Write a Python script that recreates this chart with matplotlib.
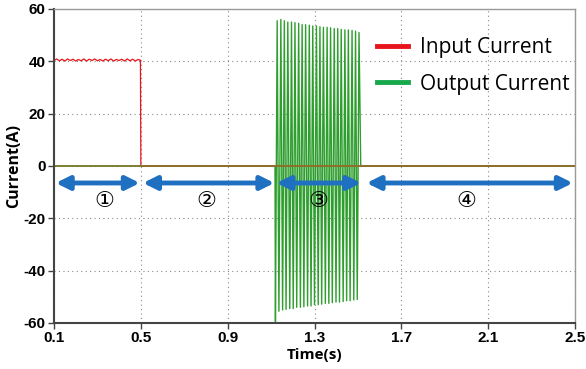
import matplotlib
matplotlib.use("Agg")
from matplotlib import pyplot as plt

# Input current (A) : ripple around 40 A until the cut at 0.5 s
input_t = [0.100, 0.112, 0.125, 0.137, 0.150, 0.162, 0.175, 0.187, 0.200, 0.212,
           0.225, 0.237, 0.250, 0.262, 0.275, 0.287, 0.300, 0.312, 0.325, 0.337,
           0.350, 0.362, 0.375, 0.387, 0.400, 0.412, 0.425, 0.437, 0.450, 0.462,
           0.475, 0.487, 0.498, 0.500, 2.500]
input_i = [40.3, 40.9, 40.2, 40.8, 40.1, 40.9, 40.3, 40.8, 40.1, 40.7,
           40.2, 40.9, 40.1, 40.8, 40.3, 40.9, 40.2, 40.7, 40.1, 40.8,
           40.2, 40.9, 40.1, 40.7, 40.3, 40.8, 40.1, 40.9, 40.2, 40.8,
           40.1, 40.7, 40.4, 0.0, 0.0]

# Output current (A) : burst between ~1.12 s and ~1.51 s, peaks
out_peak_t = [1.120, 1.128, 1.136, 1.145, 1.153, 1.161, 1.169, 1.177, 1.186, 1.194,
              1.202, 1.210, 1.218, 1.227, 1.235, 1.243, 1.251, 1.259, 1.268, 1.276,
              1.284, 1.292, 1.300, 1.309, 1.317, 1.325, 1.333, 1.341, 1.350, 1.358,
              1.366, 1.374, 1.382, 1.391, 1.399, 1.407, 1.415, 1.423, 1.432, 1.440,
              1.448, 1.456, 1.464, 1.473, 1.481, 1.489, 1.497, 1.505]
out_low = [-59.5, -55.5, -55.0, -54.8, -54.5, -54.5, -54.0, -54.0, -53.8, -53.5,
           -53.5, -53.0, -53.0, -52.8, -52.5, -52.5, -52.2, -52.0, -52.0, -51.8,
           -51.5, -51.5, -51.2, -51.0]
out_high = [55.5, 56.0, 55.5, 55.0, 55.0, 54.8, 54.5, 54.0, 54.0, 53.8,
            53.5, 53.5, 53.2, 53.0, 53.0, 52.8, 52.5, 52.5, 52.2, 52.0,
            52.0, 51.8, 51.5, 51.0]

# Stage arrows: (start, end, label position, label)
stages = [(0.108, 0.495, 0.33, "①"),
          (0.510, 1.115, 0.80, "②"),
          (1.125, 1.515, 1.32, "③"),
          (1.540, 2.490, 2.00, "④")]
x_ticks = [0.1, 0.5, 0.9, 1.3, 1.7, 2.1, 2.5]
y_ticks = [-60, -40, -20, 0, 20, 40, 60]

out_val = []
for lo, hi in zip(out_low, out_high):
    out_val += [lo, hi]
out_t = [0.1, 1.118] + out_peak_t + [1.513, 2.5]
out_i = [0.0, 0.0] + out_val + [0.0, 0.0]

fig = plt.figure(figsize=(5.86, 3.69), dpi=100)
ax = fig.add_axes([0.0922, 0.1247, 0.889, 0.851])

ax.plot(out_t, out_i, color="#2e9e2e", lw=1.0)
ax.plot(input_t, input_i, color="#e8141c", lw=0.9)
ax.axhline(0, color="#85782a", lw=1.2)

# legend proxies
ax.plot([], [], color="#e8141c", lw=3.5, label="Input Current")
ax.plot([], [], color="#17a84c", lw=3.5, label="Output Current")
ax.legend(loc="upper right", frameon=False, handlelength=1.5,
          bbox_to_anchor=(1.025, 0.97), labelspacing=0.75, handletextpad=0.55,
          prop={"family": "Open Sans", "size": 15})

for a, b, xl, lab in stages:
    ax.annotate("", xy=(a, -6.5), xytext=(b, -6.5),
                arrowprops=dict(arrowstyle="<|-|>", color="#1f70c1", lw=3.5,
                                mutation_scale=20, shrinkA=0, shrinkB=0))
    ax.text(xl, -13.5, lab, ha="center", va="center", fontsize=16,
            family=["DejaVu Sans", "Noto Sans CJK SC"])

ax.set_xlim(0.1, 2.5)
ax.set_ylim(-60, 60)
ax.set_xticks(x_ticks)
ax.set_yticks(y_ticks)
ax.set_xticklabels([f"{v:.1f}" for v in x_ticks], fontweight="bold", fontsize=11,
                   family="Liberation Sans")
ax.set_yticklabels([str(v) for v in y_ticks], fontweight="bold", fontsize=11,
                   family="Liberation Sans")
ax.grid(True, linestyle=(0, (1, 3)), color="#888888", lw=0.8)
ax.tick_params(direction="out", length=4, width=1, color="#444444", pad=2)

for s in ["left", "bottom"]:
    ax.spines[s].set_color("#444444")
    ax.spines[s].set_linewidth(1.5)
for s in ["top", "right"]:
    ax.spines[s].set_color("#999999")
    ax.spines[s].set_linewidth(1.0)

ax.set_xlabel("Time(s)", fontweight="bold", fontsize=11, labelpad=2,
              family="Open Sans")
ax.set_ylabel("Current(A)", fontweight="bold", fontsize=11.5, labelpad=1,
              family="Open Sans")

fig.savefig("out.png", dpi=100)
